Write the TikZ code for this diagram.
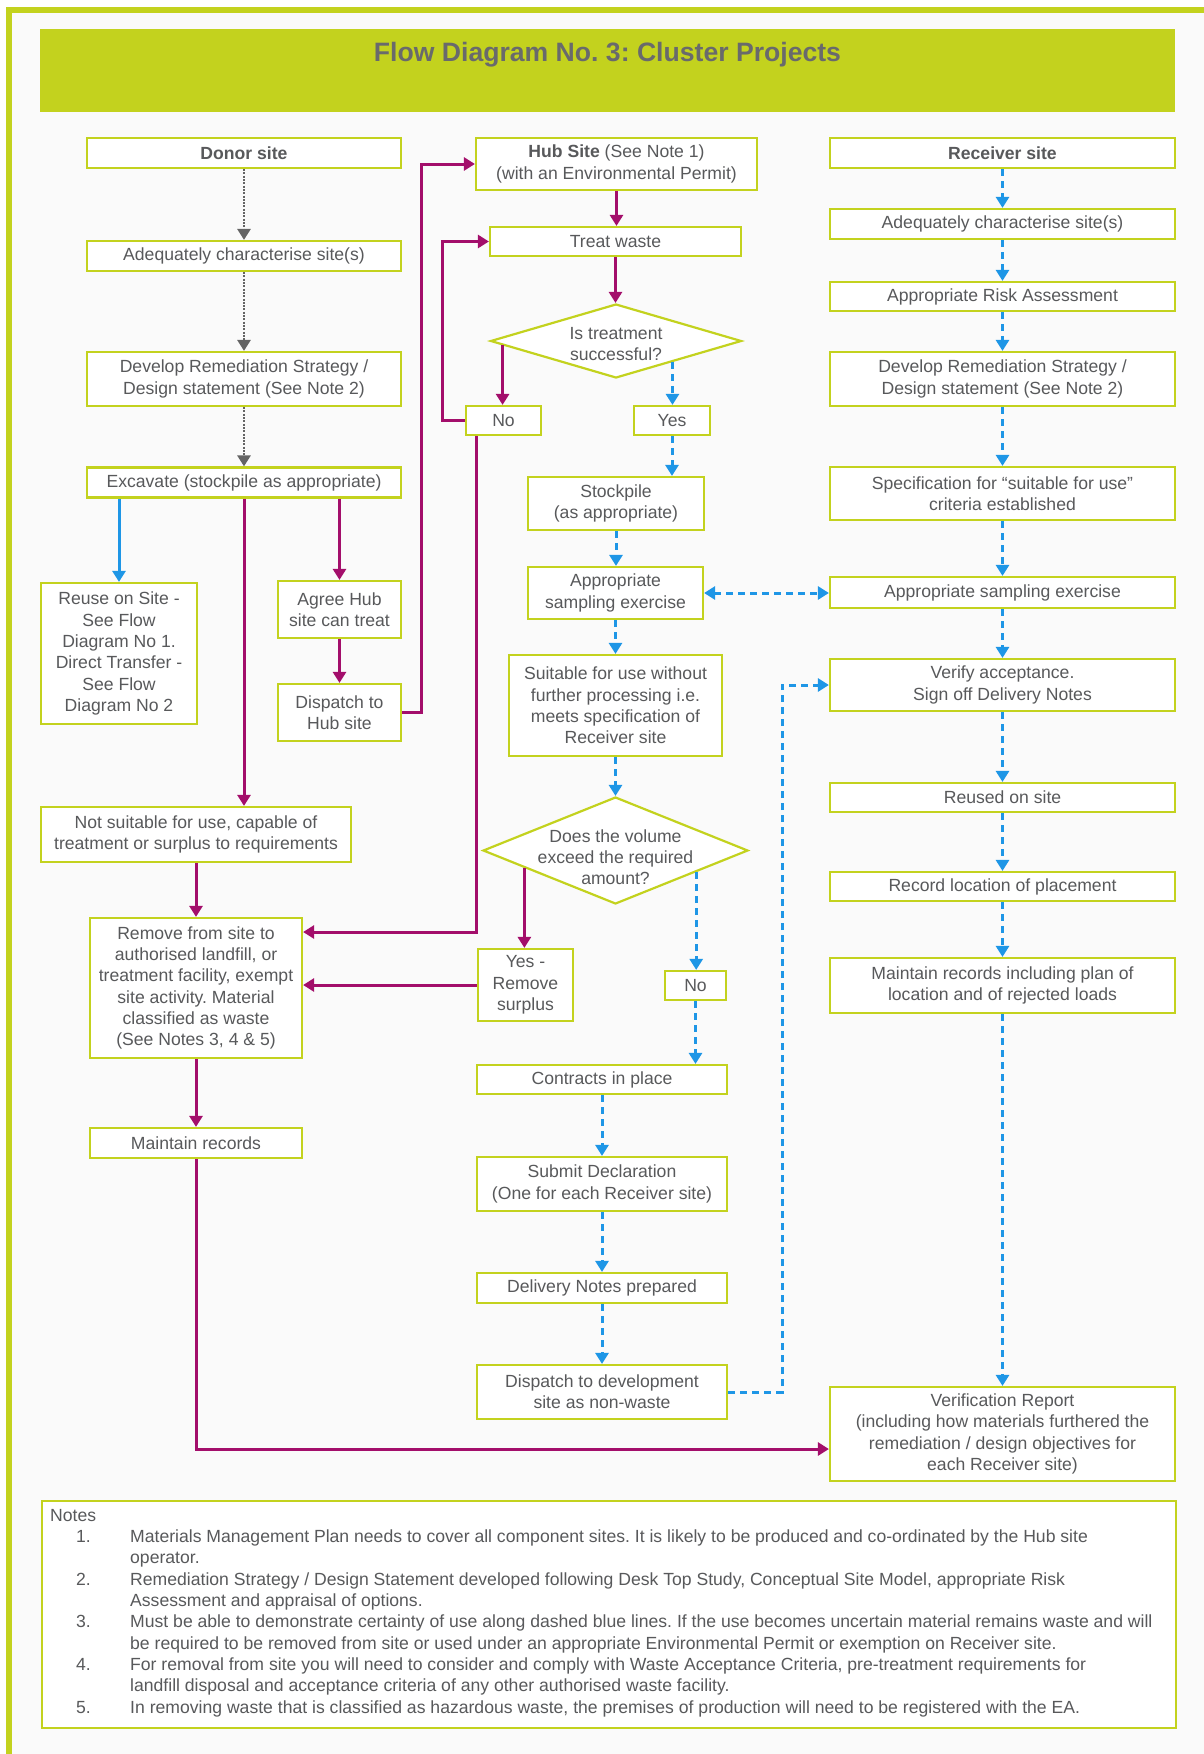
\documentclass[tikz,border=0pt]{standalone}
\usepackage{fontspec}
\setmainfont{Liberation Sans}
\usetikzlibrary{arrows.meta,shapes.geometric,calc}
\definecolor{lime}{RGB}{195,210,30}
\definecolor{magc}{RGB}{163,14,107}
\definecolor{bluc}{RGB}{30,150,230}
\definecolor{gryc}{RGB}{100,100,100}
\definecolor{txtc}{RGB}{88,89,91}
\definecolor{titc}{RGB}{105,106,108}
\definecolor{bgc}{RGB}{250,250,250}
\newcommand{\nitem}[2]{\makebox[80pt][l]{\hspace*{26pt}#1}#2}
\newcommand{\ncont}[1]{\hspace*{80pt}#1}
\frenchspacing
\begin{document}
\begin{tikzpicture}[x=1pt,y=-1pt,
  txtfont/.style={font=\fontsize{17.6}{21.3}\selectfont},
  bx/.style={draw=lime, line width=2.2pt, fill=white, rectangle, inner sep=0pt, align=center, text=txtc, txtfont},
  dia/.style={draw=lime, line width=2.2pt, fill=white, diamond, inner sep=0pt},
  dlbl/.style={align=center, text=txtc, txtfont, inner sep=0pt},
  tip/.style={-{Triangle[width=13pt,length=11pt]}},
  mag/.style={draw=magc, line width=3pt, tip},
  blu/.style={draw=bluc, line width=3pt, dash pattern=on 7pt off 5pt, tip},
  blusolid/.style={draw=bluc, line width=3pt, tip},
  gry/.style={draw=gryc, line width=2.8pt, dash pattern=on 2pt off 1.3pt, tip},
]
\useasboundingbox (0,0) rectangle (1203,1754);
\fill[white] (0,0) rectangle (1203,1754);
\draw[lime, line width=6pt, fill=bgc] (9,10) rectangle (1212,1757);

% title banner
\node[fill=lime, minimum width=1135pt, minimum height=83pt, inner sep=0pt, anchor=north west] (banner) at (40,29) {};
\node[font=\bfseries\fontsize{26.6}{30}\selectfont, text=titc, inner sep=0pt] (title) at (607.5,55) {Flow Diagram No. 3: Cluster Projects};

% left column
\node[bx, minimum width=314pt, minimum height=30pt] (donor) at (244,153) {\bfseries Donor site};
\node[bx, minimum width=314pt, minimum height=30pt] (lchar) at (244,256) {Adequately characterise site(s)};
\node[bx, minimum width=314pt, minimum height=54pt] (ldev) at (244,379) {Develop Remediation Strategy /\\Design statement (See Note 2)};
\node[bx, minimum width=314pt, minimum height=30pt] (excav) at (244,482.5) {Excavate (stockpile as appropriate)};
\node[bx, minimum width=156pt, minimum height=141pt] (reuse) at (119,653.5) {Reuse on Site -\\See Flow\\Diagram No 1.\\Direct Transfer -\\See Flow\\Diagram No 2};
\node[bx, minimum width=123pt, minimum height=57pt] (agree) at (339.5,609.5) {Agree Hub\\site can treat};
\node[bx, minimum width=123pt, minimum height=57pt] (disp) at (339.5,712.5) {Dispatch to\\Hub site};
\node[bx, minimum width=310pt, minimum height=55pt] (notsuit) at (196,834.5) {Not suitable for use, capable of\\treatment or surplus to requirements};
\node[bx, minimum width=212pt, minimum height=140pt] (remove) at (196,988) {Remove from site to\\authorised landfill, or\\treatment facility, exempt\\site activity. Material\\classified as waste\\(See Notes 3, 4 \& 5)};
\node[bx, minimum width=212pt, minimum height=30pt] (lmaint) at (196,1143) {Maintain records};

% middle column
\node[bx, minimum width=281pt, minimum height=52pt] (hub) at (616.5,164) {{\bfseries Hub Site} (See Note 1)\\(with an Environmental Permit)};
\node[bx, minimum width=251pt, minimum height=29pt] (treat) at (615.5,241.5) {Treat waste};
\node[dia, minimum width=251pt, minimum height=74pt,
  label={[dlbl, yshift=-3pt]center:{Is treatment\\successful?}}] (d1) at (616,341) {};
\node[bx, minimum width=75pt, minimum height=29pt] (no1) at (503.5,420.5) {No};
\node[bx, minimum width=76pt, minimum height=29pt] (yes1) at (672,420.5) {Yes};
\node[bx, minimum width=176pt, minimum height=53pt] (stock) at (616,503.5) {Stockpile\\(as appropriate)};
\node[bx, minimum width=175pt, minimum height=52pt] (msamp) at (615.5,593) {Appropriate\\sampling exercise};
\node[bx, minimum width=213pt, minimum height=101pt] (suit) at (615.5,705.5) {Suitable for use without\\further processing i.e.\\meets specification of\\Receiver site};
\node[dia, minimum width=265pt, minimum height=107pt,
  label={[dlbl, yshift=-6.5pt]center:{Does the volume\\exceed the required\\amount?}}] (d2) at (615.5,850.5) {};
\node[bx, minimum width=95pt, minimum height=72pt] (yesr) at (525.5,985) {Yes -\\Remove\\surplus};
\node[bx, minimum width=61pt, minimum height=29pt] (no2) at (695.5,985.5) {No};
\node[bx, minimum width=250pt, minimum height=29pt] (contr) at (602,1079.5) {Contracts in place};
\node[bx, minimum width=250pt, minimum height=54pt] (submit) at (602,1184) {Submit Declaration\\(One for each Receiver site)};
\node[bx, minimum width=250pt, minimum height=30pt] (deliv) at (602,1288) {Delivery Notes prepared};
\node[bx, minimum width=250pt, minimum height=54pt] (dispdev) at (602,1392) {Dispatch to development\\site as non-waste};

% right column
\node[bx, minimum width=345pt, minimum height=30pt] (recv) at (1002.5,153) {\bfseries Receiver site};
\node[bx, minimum width=345pt, minimum height=30pt] (rchar) at (1002.5,224) {Adequately characterise site(s)};
\node[bx, minimum width=345pt, minimum height=29pt] (risk) at (1002.5,296.5) {Appropriate Risk Assessment};
\node[bx, minimum width=345pt, minimum height=54pt] (rdev) at (1002.5,379) {Develop Remediation Strategy /\\Design statement (See Note 2)};
\node[bx, minimum width=345pt, minimum height=53pt] (spec) at (1002.5,493.5) {Specification for “suitable for use”\\criteria established};
\node[bx, minimum width=345pt, minimum height=31pt] (rsamp) at (1002.5,592.5) {Appropriate sampling exercise};
\node[bx, minimum width=345pt, minimum height=52pt] (verify) at (1002.5,685) {Verify acceptance.\\Sign off Delivery Notes};
\node[bx, minimum width=345pt, minimum height=29pt] (reused) at (1002.5,797.5) {Reused on site};
\node[bx, minimum width=345pt, minimum height=29pt] (record) at (1002.5,886.5) {Record location of placement};
\node[bx, minimum width=345pt, minimum height=55pt] (rmaint) at (1002.5,985.5) {Maintain records including plan of\\location and of rejected loads};
\node[bx, minimum width=345pt, minimum height=94pt] (vrep) at (1002.5,1434) {Verification Report\\(including how materials furthered the\\remediation / design objectives for\\each Receiver site)};

% notes
\node[bx, minimum width=1134pt, minimum height=227pt, anchor=north west] (notes) at (41,1500) {};
\node[anchor=north west, inner sep=0pt, align=left, text=txtc, txtfont] (notestext) at (50,1509) {%
Notes\\
\nitem{1.}{Materials Management Plan needs to cover all component sites. It is likely to be produced and co-ordinated by the Hub site}\\
\ncont{operator.}\\
\nitem{2.}{Remediation Strategy / Design Statement developed following Desk Top Study, Conceptual Site Model, appropriate Risk}\\
\ncont{Assessment and appraisal of options.}\\
\nitem{3.}{Must be able to demonstrate certainty of use along dashed blue lines. If the use becomes uncertain material remains waste and will}\\
\ncont{be required to be removed from site or used under an appropriate Environmental Permit or exemption on Receiver site.}\\
\nitem{4.}{For removal from site you will need to consider and comply with Waste Acceptance Criteria, pre-treatment requirements for}\\
\ncont{landfill disposal and acceptance criteria of any other authorised waste facility.}\\
\nitem{5.}{In removing waste that is classified as hazardous waste, the premises of production will need to be registered with the EA.}};

% connectors: donor column
\draw[gry] (donor.south) -- (lchar.north);
\draw[gry] (lchar.south) -- (ldev.north);
\draw[gry] (ldev.south) -- (excav.north);
\draw[blusolid] (reuse.north |- excav.south) -- (reuse.north);
\draw[mag] (excav.south) -- (excav.south |- notsuit.north);
\draw[mag] (agree.north |- excav.south) -- (agree.north);
\draw[mag] (agree.south) -- (disp.north);
\draw[mag] (disp.east) -- ++(19,0) |- (hub.west);
\draw[mag] (notsuit.south) -- (remove.north);
\draw[mag] (remove.south) -- (lmaint.north);
\draw[mag] (lmaint.south) |- ([yshift=-15pt]vrep.west);

% hub column
\draw[mag] (hub.south) -- (hub.south |- treat.north);
\draw[mag] (treat.south) -- (treat.south |- d1.north);
\path ($(d1.west)!0.104!(d1.south)$) coordinate (d1no);
\path ($(d1.south)!0.446!(d1.east)$) coordinate (d1yes);
\draw[mag] (d1no) -- (d1no |- no1.north);
\draw[blu] (d1yes) -- (d1yes |- yes1.north);
\draw[mag] (no1.west) -- ++(-22,0) |- (treat.west);
\draw[mag] ([xshift=-27.5pt]no1.south) |- ([yshift=56pt]remove.east);
\draw[blu] (yes1.south) -- (yes1.south |- stock.north);
\draw[blu] (stock.south) -- (stock.south |- msamp.north);
\draw[blu] (msamp.south) -- (msamp.south |- suit.north);
\draw[blu] (suit.south) -- (suit.south |- d2.north);
\path ($(d2.west)!0.318!(d2.south)$) coordinate (d2yes);
\path ($(d2.south)!0.604!(d2.east)$) coordinate (d2no);
\draw[mag] (d2yes) -- (d2yes |- yesr.north);
\draw[blu] (d2no) -- (d2no |- no2.north);
\draw[mag] (yesr.west) -- (remove.east |- yesr.west);
\draw[blu] (no2.south) -- (no2.south |- contr.north);
\draw[blu] (contr.south) -- (submit.north);
\draw[blu] (submit.south) -- (deliv.north);
\draw[blu] (deliv.south) -- (dispdev.north);
\draw[blu] (dispdev.east) -- ++(54,0) |- (verify.west);
\draw[blu, {Triangle[width=13pt,length=11pt]}-{Triangle[width=13pt,length=11pt]}] (msamp.east) -- (msamp.east -| rsamp.west);

% receiver column
\draw[blu] (recv.south) -- (rchar.north);
\draw[blu] (rchar.south) -- (risk.north);
\draw[blu] (risk.south) -- (rdev.north);
\draw[blu] (rdev.south) -- (spec.north);
\draw[blu] (spec.south) -- (rsamp.north);
\draw[blu] (rsamp.south) -- (verify.north);
\draw[blu] (verify.south) -- (reused.north);
\draw[blu] (reused.south) -- (record.north);
\draw[blu] (record.south) -- (rmaint.north);
\draw[blu] (rmaint.south) -- (vrep.north);
\end{tikzpicture}
\end{document}
